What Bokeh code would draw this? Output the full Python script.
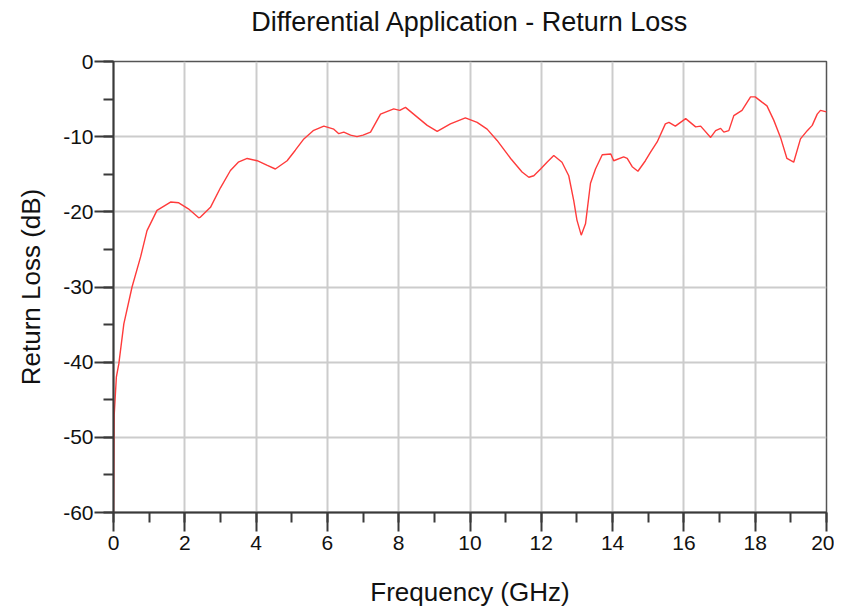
from bokeh.plotting import figure
from bokeh.models import Range1d, SingleIntervalTicker, PrintfTickFormatter, Title
from bokeh.embed import file_html
from bokeh.resources import INLINE

title_text = "Differential Application - Return Loss"
x_label = "Frequency (GHz)"
y_label = "Return Loss (dB)"

freq_ghz = [0, 0.02, 0.08, 0.15, 0.29, 0.52, 0.76, 0.94, 1.22, 1.6, 1.83, 2.1, 2.39,
            2.44, 2.72, 3.0, 3.28, 3.5, 3.75, 4.03, 4.3, 4.54, 4.87, 5.1, 5.34, 5.6, 5.9,
            6.18, 6.32, 6.46, 6.65, 6.83, 7.0, 7.21, 7.49, 7.86, 8.03, 8.19, 8.52, 8.8,
            9.08, 9.45, 9.87, 10.2, 10.48, 10.76, 11.14, 11.46, 11.65, 11.79, 11.98,
            12.16, 12.35, 12.58, 12.77, 12.91, 13.0, 13.12, 13.24, 13.38, 13.52, 13.71,
            13.95, 14.03, 14.31, 14.41, 14.55, 14.71, 14.92, 15.06, 15.25, 15.48, 15.58,
            15.76, 16.05, 16.33, 16.47, 16.75, 16.89, 17.03, 17.12, 17.26, 17.4, 17.63,
            17.87, 18.0, 18.19, 18.33, 18.52, 18.71, 18.89, 19.08, 19.27, 19.46, 19.6,
            19.74, 19.83, 20.0]
return_loss_db = [-60, -47, -42, -40.2, -34.9, -30, -26, -22.5, -19.8, -18.7, -18.8,
                  -19.6, -20.8, -20.7, -19.4, -16.8, -14.5, -13.4, -12.9, -13.2, -13.8,
                  -14.3, -13.2, -11.8, -10.3, -9.2, -8.6, -9.0, -9.6, -9.4, -9.8, -10.0,
                  -9.8, -9.4, -7.0, -6.3, -6.5, -6.1, -7.4, -8.5, -9.3, -8.3, -7.5, -8.1,
                  -9.0, -10.5, -12.9, -14.7, -15.4, -15.2, -14.3, -13.4, -12.5, -13.4,
                  -15.2, -18.5, -21.1, -23.1, -21.6, -16.2, -14.3, -12.4, -12.3, -13.2,
                  -12.7, -12.9, -14.0, -14.6, -13.2, -12.1, -10.7, -8.3, -8.1, -8.6, -7.6,
                  -8.7, -8.6, -10.1, -9.2, -8.9, -9.4, -9.2, -7.2, -6.5, -4.7, -4.7, -5.4,
                  -5.9, -7.8, -10.1, -12.9, -13.4, -10.3, -9.2, -8.5, -7.0, -6.5, -6.7]

FONT = "Liberation Sans"

p = figure(width=834, height=609, output_backend="svg", toolbar_location=None,
           x_range=Range1d(0, 20), y_range=Range1d(-60, 0),
           min_border_left=113, min_border_right=8, min_border_top=61,
           min_border_bottom=97)

# spacer (closest to the frame) then the real title above it
p.add_layout(Title(text=" ", text_font=FONT, text_font_size="10px", standoff=7,
                   vertical_align="top"), "above")
p.add_layout(Title(text=title_text, align="center", vertical_align="top",
                   text_font=FONT, text_font_size="27px", text_font_style="normal",
                   text_color="#111111", standoff=5), "above")

p.line(freq_ghz, return_loss_db, line_color="#ff3b3b", line_width=1.4)

p.xaxis.ticker = SingleIntervalTicker(interval=2, num_minor_ticks=2)
p.yaxis.ticker = SingleIntervalTicker(interval=10, num_minor_ticks=2)
p.xaxis.formatter = PrintfTickFormatter(format="%d")
p.yaxis.formatter = PrintfTickFormatter(format="%d")

for ax in (p.xaxis[0], p.yaxis[0]):
    ax.axis_line_color = "#3a3a3a"
    ax.axis_line_width = 2
    ax.major_tick_line_color = "#3a3a3a"
    ax.major_tick_line_width = 2
    ax.minor_tick_line_color = "#3a3a3a"
    ax.minor_tick_line_width = 2
    ax.major_tick_in = 0
    ax.major_tick_out = 19
    ax.minor_tick_in = 0
    ax.minor_tick_out = 10
    ax.major_label_text_font = FONT
    ax.major_label_text_font_size = "21px"
    ax.major_label_text_color = "#111111"
    ax.axis_label_text_font = FONT
    ax.axis_label_text_font_size = "26px"
    ax.axis_label_text_font_style = "normal"
    ax.axis_label_text_color = "#111111"

p.xaxis.axis_label = x_label
p.yaxis.axis_label = y_label
p.xaxis.major_label_standoff = 4
p.yaxis.major_label_standoff = 1
p.xaxis.axis_label_standoff = 24
p.yaxis.axis_label_standoff = 14

p.xgrid.grid_line_color = "#cccccc"
p.ygrid.grid_line_color = "#cccccc"
p.xgrid.grid_line_width = 2
p.ygrid.grid_line_width = 2

p.outline_line_color = "#555555"
p.outline_line_width = 1.5

open("out.html", "w").write(file_html(p, INLINE))
